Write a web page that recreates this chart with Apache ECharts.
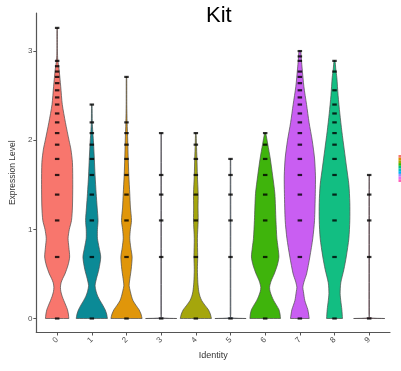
<!DOCTYPE html>
<html>
<head>
<meta charset="utf-8">
<script src="https://cdn.jsdelivr.net/npm/echarts@6/dist/echarts.min.js"></script>
<style>
  html, body { margin: 0; padding: 0; background: #fff; }
  #chart { width: 401px; height: 371px; }
</style>
</head>
<body>
<div id="chart"></div>
<script>
// Cluster identities on the x axis
const identities = ['0', '1', '2', '3', '4', '5', '6', '7', '8', '9'];
const yTicks = [0, 1, 2, 3];

// Violin outlines: [expression level, relative half-width (1 = widest)]
const shape0 = [[0,0.75],[0.05,0.72],[0.1,0.66],[0.15,0.55],[0.2,0.43],[0.25,0.32],[0.3,0.24],[0.35,0.21],[0.4,0.25],[0.45,0.36],[0.5,0.5],[0.6,0.7],[0.69,0.8],[0.8,0.75],[0.9,0.7],[1.0,0.78],[1.1,0.92],[1.25,0.98],[1.5,1.0],[1.75,0.98],[1.9,0.88],[2.0,0.76],[2.2,0.53],[2.4,0.33],[2.6,0.23],[2.8,0.12],[2.9,0.04],[3.0,0.02],[3.26,0.015]];
const shape1 = [[0,1.0],[0.05,0.95],[0.1,0.85],[0.15,0.7],[0.2,0.53],[0.25,0.38],[0.3,0.28],[0.37,0.21],[0.45,0.3],[0.55,0.45],[0.69,0.57],[0.8,0.46],[0.9,0.36],[1.0,0.36],[1.1,0.4],[1.25,0.34],[1.4,0.28],[1.6,0.21],[1.8,0.16],[2.0,0.1],[2.1,0.06],[2.2,0.03],[2.4,0.015]];
const shape2 = [[0,1.0],[0.05,0.93],[0.1,0.8],[0.15,0.6],[0.2,0.42],[0.25,0.32],[0.3,0.25],[0.37,0.17],[0.45,0.22],[0.55,0.3],[0.69,0.36],[0.8,0.27],[0.9,0.21],[1.0,0.25],[1.1,0.32],[1.25,0.25],[1.4,0.21],[1.6,0.15],[1.8,0.11],[2.0,0.08],[2.2,0.04],[2.4,0.02],[2.71,0.015]];
const shape3 = [[0,1.0],[0.01,0.03],[0.05,0.02],[2.08,0.015]];
const shape4 = [[0,1.0],[0.05,0.93],[0.1,0.8],[0.15,0.58],[0.2,0.38],[0.25,0.26],[0.3,0.19],[0.4,0.13],[0.55,0.1],[0.69,0.12],[0.9,0.1],[1.1,0.15],[1.25,0.14],[1.4,0.15],[1.6,0.1],[1.8,0.07],[1.95,0.04],[2.08,0.015]];
const shape5 = [[0,1.0],[0.01,0.03],[0.05,0.02],[1.79,0.015]];
const shape6 = [[0,0.98],[0.05,0.95],[0.1,0.88],[0.15,0.72],[0.2,0.55],[0.25,0.42],[0.3,0.32],[0.35,0.28],[0.42,0.38],[0.5,0.58],[0.6,0.78],[0.69,0.88],[0.8,0.82],[0.9,0.75],[1.1,0.69],[1.4,0.62],[1.6,0.48],[1.8,0.32],[1.95,0.17],[2.08,0.03]];
const shape7 = [[0,0.6],[0.05,0.56],[0.1,0.51],[0.2,0.32],[0.3,0.23],[0.35,0.19],[0.42,0.28],[0.5,0.43],[0.69,0.64],[0.9,0.83],[1.1,0.94],[1.4,0.99],[1.6,1.0],[1.8,0.94],[2.0,0.79],[2.2,0.59],[2.4,0.43],[2.6,0.26],[2.8,0.15],[2.9,0.1],[3.0,0.05]];
const shape8 = [[0,0.51],[0.1,0.47],[0.2,0.4],[0.28,0.36],[0.4,0.4],[0.55,0.6],[0.69,0.75],[0.9,0.92],[1.1,0.98],[1.3,0.98],[1.5,0.92],[1.7,0.77],[1.9,0.62],[2.1,0.47],[2.3,0.34],[2.5,0.23],[2.7,0.15],[2.8,0.08],[2.89,0.03]];
const shape9 = [[0,1.0],[0.01,0.03],[0.05,0.02],[1.61,0.015]];

// Distinct expression levels observed in each identity
const levels0 = [0,0.69,1.10,1.39,1.61,1.79,1.95,2.08,2.20,2.30,2.40,2.48,2.56,2.64,2.71,2.77,2.83,2.89,3.26];
const levels1 = [0,0.69,1.10,1.39,1.61,1.79,1.95,2.08,2.20,2.40];
const levels2 = [0,0.69,1.10,1.39,1.61,1.79,1.95,2.08,2.20,2.71];
const levels3 = [0,0.69,1.10,1.39,1.61,2.08];
const levels4 = [0,0.69,1.10,1.39,1.61,1.79,1.95,2.08];
const levels5 = [0,0.69,1.10,1.39,1.61,1.79];
const levels6 = [0,0.69,1.10,1.39,1.61,1.79,1.95,2.08];
const levels7 = [0,0.69,1.10,1.39,1.61,1.79,1.95,2.08,2.20,2.30,2.40,2.48,2.56,2.64,2.71,2.77,2.89,2.94,3.00];
const levels8 = [0,0.69,1.10,1.39,1.61,1.79,1.95,2.08,2.20,2.30,2.40,2.56,2.77,2.89];
const levels9 = [0,0.69,1.10,1.39,1.61];

const shapes = [shape0, shape1, shape2, shape3, shape4, shape5, shape6, shape7, shape8, shape9];
const levels = [levels0, levels1, levels2, levels3, levels4, levels5, levels6, levels7, levels8, levels9];

const fillColors = ['#F8766D', '#0B8A96', '#E0960A', '#B7A3DC', '#A5A60C', '#7AA6D6', '#3FB40C', '#C95EF2', '#12BE82', '#F0709A'];
const legendColors = ['#F8766D', '#D89000', '#A3A500', '#39B600', '#00BF7D', '#00BFC4', '#00B0F6', '#9590FF', '#E76BF3', '#FF62BC'];

const FONT = '"Liberation Sans", Arial, sans-serif';
const HALF = 0.45; // half of the violin width in category units

const chart = echarts.init(document.getElementById('chart'), null, { renderer: 'canvas' });

const pointData = [];
levels.forEach((arr, g) => arr.forEach(v => pointData.push([g, v])));

// small colour strip at the right edge
const stripEls = legendColors.map((c, i) => ({
  type: 'rect',
  shape: { x: 398.5, y: 155 + i * 2.7, width: 3, height: 2.7 },
  style: { fill: c }
}));

chart.setOption({
  animation: false,
  title: {
    text: 'Kit',
    left: 201,
    top: 0,
    textStyle: { fontFamily: FONT, fontSize: 22, fontWeight: 'normal', color: '#000' }
  },
  grid: { left: 35, right: 11, top: 13, bottom: 38.5, containLabel: false },
  xAxis: {
    type: 'value',
    min: -0.6,
    max: 9.6,
    name: 'Identity',
    nameLocation: 'middle',
    nameGap: 12,
    nameTextStyle: { fontFamily: FONT, fontSize: 9, color: '#333' },
    axisLine: { show: true, onZero: false, lineStyle: { color: '#555', width: 1.2 } },
    axisTick: { show: true, length: 3, customValues: identities.map((_, i) => i), lineStyle: { color: '#555' } },
    axisLabel: {
      customValues: identities.map((_, i) => i),
      formatter: v => identities[Math.round(v)],
      rotate: 45,
      margin: 6,
      fontFamily: FONT,
      fontSize: 8,
      color: '#4d4d4d'
    },
    splitLine: { show: false }
  },
  yAxis: {
    type: 'value',
    min: -0.157,
    max: 3.427,
    name: 'Expression Level',
    nameLocation: 'middle',
    nameGap: 10,
    nameTextStyle: { fontFamily: FONT, fontSize: 8.5, color: '#333' },
    axisLine: { show: true, onZero: false, lineStyle: { color: '#555', width: 1.2 } },
    axisTick: { show: true, length: 3, customValues: yTicks, lineStyle: { color: '#555' } },
    axisLabel: {
      customValues: yTicks,
      margin: 4,
      fontFamily: FONT,
      fontSize: 8,
      color: '#4d4d4d'
    },
    splitLine: { show: false }
  },
  graphic: stripEls,
  series: [
    {
      type: 'custom',
      data: identities.map((_, i) => [i, 0]),
      renderItem: (params, api) => {
        const g = api.value(0);
        const prof = shapes[g];
        const left = prof.map(([y, w]) => api.coord([g - w * HALF, y]));
        const right = prof.slice().reverse().map(([y, w]) => api.coord([g + w * HALF, y]));
        // base corners repeated so the smoothing keeps the flat bottom sharp
        const pts = [left[0]].concat(left, right, [right[right.length - 1]]);
        return {
          type: 'polygon',
          shape: { points: pts, smooth: 0.25 },
          style: { fill: fillColors[g], stroke: '#4a4a4a', lineWidth: 0.7 }
        };
      },
      z: 2
    },
    {
      type: 'scatter',
      data: pointData,
      symbol: 'rect',
      symbolSize: [4.5, 2.2],
      itemStyle: { color: '#000' },
      z: 3
    }
  ]
});
</script>
</body>
</html>
